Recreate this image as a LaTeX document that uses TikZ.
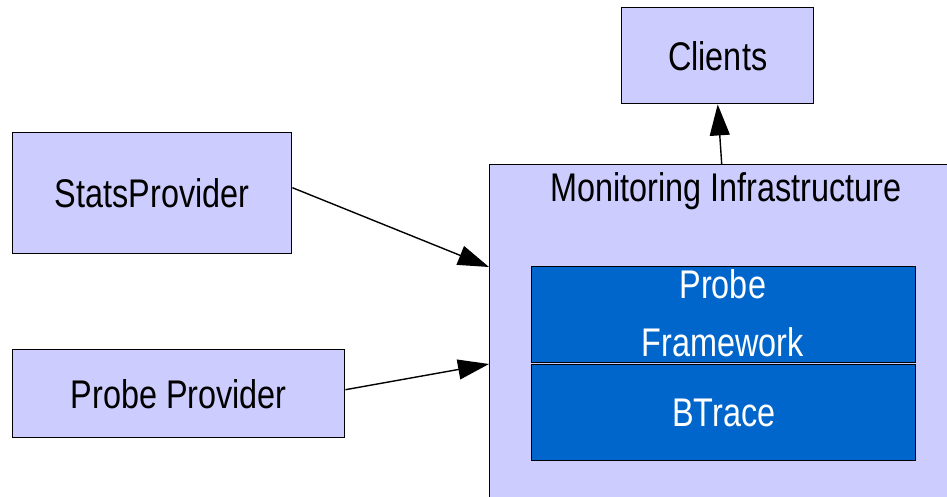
\documentclass[tikz,border=0pt]{standalone}
\usepackage{fontspec}
\setmainfont{Liberation Sans}[FakeStretch=0.81]
\usetikzlibrary{arrows.meta,calc}
\definecolor{lav}{HTML}{CCCCFF}
\definecolor{darkblue}{HTML}{0066CC}
\begin{document}
\begin{tikzpicture}[x=1pt,y=-1pt,
  lbox/.style={draw=black, line width=1.4pt, fill=lav, anchor=north west, inner sep=0pt, font=\fontsize{40}{48}\selectfont},
  bbox/.style={draw=black, line width=1.3pt, fill=darkblue, anchor=north west, inner sep=0pt, text=white, font=\fontsize{40}{48}\selectfont},
  lbl/.style={anchor=base, inner sep=0pt, font=\fontsize{40}{48}\selectfont},
  arr/.style={line width=1.4pt, -{Triangle[length=31pt,width=20pt]}}]
\useasboundingbox (0,0) rectangle (947,496);
\clip (0,0) rectangle (947,496);
\fill[white] (0,0) rectangle (947,496);
% boxes
\node[lbox, minimum width=192pt, minimum height=96pt] (clients) at (621,7) {Clients};
\node[lbox, minimum width=279pt, minimum height=121pt] (stats) at (12,132) {StatsProvider};
\node[lbox, minimum width=332pt, minimum height=88pt] (probe) at (12,349) {Probe Provider};
\node[lbox, minimum width=480pt, minimum height=360pt] (mon) at (489,164) {};
\node[lbl] (monlabel) at (725.8,201.7) {Monitoring Infrastructure};
\node[bbox, minimum width=384pt, minimum height=96pt] (pf) at (531,265.5) {};
\node[lbl, text=white] (pf1) at (722.8,298) {Probe};
\node[lbl, text=white] (pf2) at (722.8,356.7) {Framework};
\node[bbox, minimum width=384pt, minimum height=96pt] (bt) at (531,364) {BTrace};
% connectors
\coordinate (monA) at ($(mon.north west)+(0,103)$);
\coordinate (monB) at ($(mon.north west)+(0,200)$);
\coordinate (monC) at ($(mon.north west)+(232.7,0)$);
\draw[arr] ([yshift=5.5pt]stats.east) -- (monA);
\draw[arr] ([yshift=4pt]probe.east) -- (monB);
\draw[arr] (monC) -- (clients.south);
\end{tikzpicture}
\end{document}
